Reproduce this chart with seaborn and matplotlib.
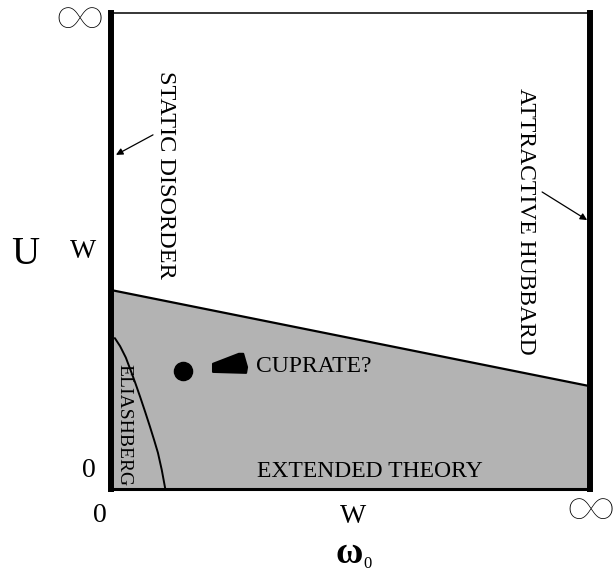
import numpy as np
import pandas as pd
import matplotlib
matplotlib.use("Agg")
import matplotlib.pyplot as plt
import seaborn as sns

# ---- data (schematic phase diagram, axes normalised 0..1) ----
boundary_x = [0.0, 1.0]
boundary_y = [0.418, 0.216]

eliash_x = [0.008, 0.019, 0.031, 0.040, 0.051, 0.061, 0.071, 0.081, 0.090, 0.098, 0.106, 0.113]
eliash_y = [0.317, 0.300, 0.276, 0.252, 0.222, 0.193, 0.163, 0.132, 0.103, 0.076, 0.040, 0.002]

dot_x = [0.150]
dot_y = [0.248]

cuprate_x = [0.213, 0.213, 0.282, 0.284, 0.276, 0.267]
cuprate_y = [0.263, 0.246, 0.244, 0.256, 0.284, 0.284]

x_tick_labels = ["0", "W"]
y_tick_labels = ["0", "W"]

sns.set_theme(style="white")
plt.rcParams["font.family"] = ["Liberation Serif", "DejaVu Serif"]
plt.rcParams["text.color"] = "black"

fig = plt.figure(figsize=(6.13, 5.71), dpi=100)
ax = fig.add_axes([111/613, 82/571, 479/613, 476/571])
ax.set_xlim(0, 1)
ax.set_ylim(0, 1)
ax.set_xticks([])
ax.set_yticks([])

gray = "#b3b3b3"
ax.fill_between(boundary_x, 0, boundary_y, color=gray, lw=0, zorder=1)

bdf = pd.DataFrame({"x": boundary_x, "y": boundary_y})
sns.lineplot(data=bdf, x="x", y="y", color="black", lw=1.6, ax=ax, zorder=3)
edf = pd.DataFrame({"x": eliash_x, "y": eliash_y})
sns.lineplot(data=edf, x="x", y="y", sort=False, color="black", lw=1.4, ax=ax, zorder=3)
sns.scatterplot(x=dot_x, y=dot_y, s=13**2, color="black", edgecolor="black", ax=ax, zorder=4)
ax.fill(cuprate_x, cuprate_y, color="black", lw=1.5, joinstyle="round", zorder=4)
ax.set_xlabel("")
ax.set_ylabel("")

for side, lw in [("left", 4.3), ("right", 4.3), ("top", 1.1), ("bottom", 2.2)]:
    ax.spines[side].set_visible(True)
    ax.spines[side].set_linewidth(lw)
    ax.spines[side].set_color("black")
    ax.spines[side].set_zorder(5)

fs = 17
tc = "black"
ax.text(0.303, 0.263, "CUPRATE?", fontsize=fs, color=tc, ha="left", va="center_baseline", zorder=6)
ax.text(0.541, 0.042, "EXTENDED THEORY", fontsize=fs, color=tc, ha="center", va="center_baseline", zorder=6)
ax.text(0.113, 0.660, "STATIC DISORDER", fontsize=17.5, color=tc, rotation=270,
        ha="center", va="center", zorder=6)
ax.text(0.866, 0.563, "ATTRACTIVE HUBBARD", fontsize=fs, color=tc, rotation=270,
        ha="center", va="center", zorder=6)
ax.text(0.027, 0.134, "ELIASHBERG", fontsize=14, color=tc, rotation=270,
        ha="center", va="center", zorder=6)

ax.annotate("", xy=(0.0104, 0.702), xytext=(0.0877, 0.744),
            arrowprops=dict(arrowstyle="-|>", color="black", lw=0.9,
                            mutation_scale=10, shrinkA=0, shrinkB=0), zorder=6)
ax.annotate("", xy=(0.994, 0.565), xytext=(0.900, 0.624),
            arrowprops=dict(arrowstyle="-|>", color="black", lw=0.9,
                            mutation_scale=10, shrinkA=0, shrinkB=0), zorder=6)

# outside labels
inf_family = ["Lato", "DejaVu Sans"]
ax.text(-0.180, 0.502, "U", fontsize=28, color=tc, ha="center", va="center_baseline", clip_on=False)
ax.text(-0.058, 0.506, y_tick_labels[1], fontsize=20, color=tc, ha="center", va="center_baseline", clip_on=False)
ax.text(-0.046, 0.046, y_tick_labels[0], fontsize=20, color=tc, ha="center", va="center_baseline", clip_on=False)
ax.text(-0.023, -0.049, x_tick_labels[0], fontsize=20, color=tc, ha="center", va="center_baseline", clip_on=False)
ax.text(0.505, -0.051, x_tick_labels[1], fontsize=20, color=tc, ha="center", va="center_baseline", clip_on=False)
ax.text(1.0, -0.032, "∞", fontsize=52, family=inf_family, fontweight="light", color=tc,
        ha="center", va="center_baseline", clip_on=False)
ax.text(-0.065, 1.0, "∞", fontsize=52, family=inf_family, fontweight="light", color=tc,
        ha="center", va="center_baseline", clip_on=False)
ax.text(0.497, -0.155, "ω", fontsize=27, fontweight="bold", color=tc, ha="center", va="baseline", clip_on=False)
ax.text(0.535, -0.165, "0", fontsize=12, color=tc, ha="center", va="baseline", clip_on=False)

fig.savefig("out.png", dpi=100)
